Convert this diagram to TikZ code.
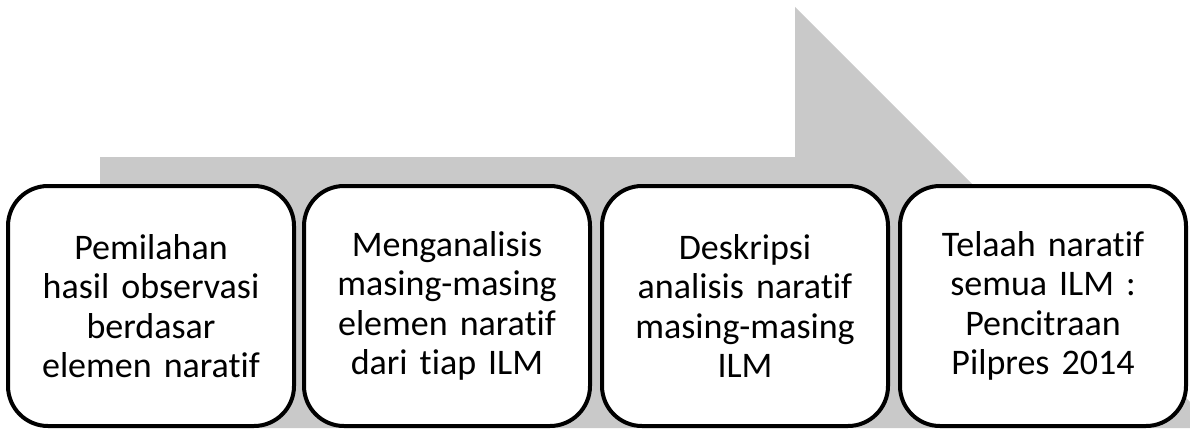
\documentclass[tikz,border=0pt]{standalone}
\usepackage{fontspec}
\setmainfont{Carlito}[Ligatures=NoCommon]
\definecolor{arrowgrey}{HTML}{C9C9C9}
\tikzset{
  stepbox/.style={draw=black, line width=4pt, fill=white, rounded corners=40pt,
    minimum width=286pt, minimum height=240pt, inner sep=0pt, text width=280pt,
    align=center, font=\fontsize{36}{39.5}\selectfont},
}
\begin{document}
\begin{tikzpicture}[x=1pt,y=-1pt]
\useasboundingbox (0,0) rectangle (1190,428);
\clip (0,0) rectangle (1190,428);
\fill[arrowgrey] (100,157) -- (795,157) -- (795,7) -- (1216,428) -- (100,428) -- cycle;
\node[stepbox] (s1) at (151,306) {Pemilahan\\hasil observasi\\berdasar\\elemen naratif};
\node[stepbox] (s2) at (447,306) {Menganalisis\\masing-masing\\elemen naratif\\dari tiap ILM};
\node[stepbox] (s3) at (745,306) {Deskripsi\\analisis naratif\\masing-masing\\ILM};
\node[stepbox] (s4) at (1043,306) {Telaah naratif\\semua ILM :\\Pencitraan\\Pilpres 2014};
\end{tikzpicture}
\end{document}
